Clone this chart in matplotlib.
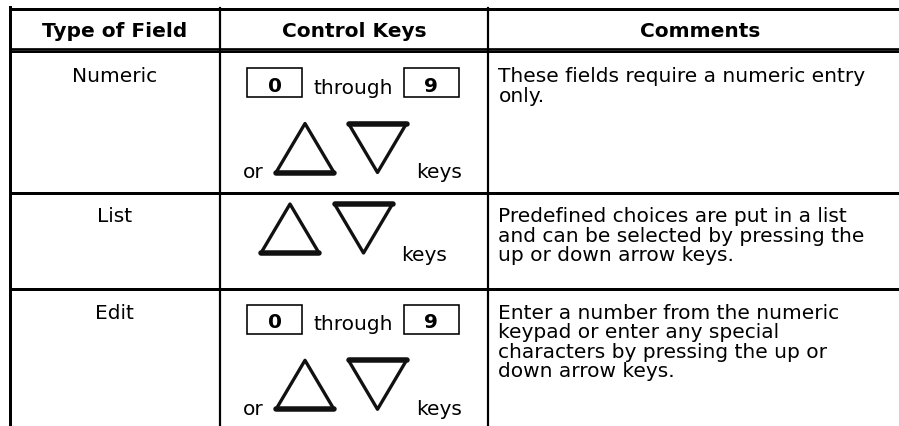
import matplotlib.pyplot as plt
from matplotlib.patches import Polygon, Rectangle

plt.rcParams['font.family'] = ['DejaVu Sans']

# table content
headers = ["Type of Field", "Control Keys", "Comments"]
field_types = ["Numeric", "List", "Edit"]
has_digit_keys = [True, False, True]
key_range = ["0", "9"]
comments = [
    ["These fields require a numeric entry", "only."],
    ["Predefined choices are put in a list", "and can be selected by pressing the",
     "up or down arrow keys."],
    ["Enter a number from the numeric", "keypad or enter any special",
     "characters by pressing the up or", "down arrow keys."],
]

# layout in pixels (y grows downward)
W, H = 899, 427
col_x = [9.5, 220, 488.3, 912]
row_top = [53.5, 194, 290.3]
row_bot = [194, 290.3, 440]
FS = 14.5
LINE = 19.5


def px(p):
    return p * 0.72


def triangle(ax, x0, y0, up=True, w=58, h=49):
    if up:
        pts = [(x0, y0 + h), (x0 + w / 2, y0), (x0 + w, y0 + h)]
        edge = y0 + h
    else:
        pts = [(x0, y0), (x0 + w, y0), (x0 + w / 2, y0 + h)]
        edge = y0
    ax.add_patch(Polygon(pts, closed=True, fill=False, ec='#111111',
                         lw=px(3.3), joinstyle='round'))
    ax.plot([x0, x0 + w], [edge, edge], color='#111111', lw=px(5.5),
            solid_capstyle='round')


def key_box(ax, x0, y0, label):
    ax.add_patch(Rectangle((x0, y0), 55, 29, fill=False, ec='black', lw=px(1.6)))
    ax.text(x0 + 27.5, y0 + 22.5, label, ha='center', va='baseline',
            fontsize=FS, fontweight='bold')


fig = plt.figure(figsize=(W / 100, H / 100), dpi=100)
ax = fig.add_axes([0, 0, 1, 1])
ax.set_xlim(0, W)
ax.set_ylim(H, 0)
ax.axis('off')

# grid lines
ax.plot([col_x[0], W], [9.5, 9.5], color='black', lw=px(3))
ax.plot([col_x[0], W], [49.7, 49.7], color='black', lw=px(2.7))
ax.plot([col_x[0], W], [53.3, 53.3], color='black', lw=px(2))
ax.plot([col_x[0], col_x[0]], [8, H], color='black', lw=px(3))
for cx in col_x[1:3]:
    ax.plot([cx, cx], [9, H], color='black', lw=px(2.2))
for ry in row_bot[:2]:
    ax.plot([col_x[0], W], [ry, ry], color='black', lw=px(3))

# header
for i, h in enumerate(headers):
    ax.text((col_x[i] + col_x[i + 1]) / 2, 37, h, ha='center', va='baseline',
            fontsize=FS, fontweight='bold')

for r, name in enumerate(field_types):
    top = row_top[r]
    ax.text((col_x[0] + col_x[1]) / 2, top + 28.5, name, ha='center',
            va='baseline', fontsize=FS)
    for k, line in enumerate(comments[r]):
        ax.text(498.5, top + 28.5 + k * LINE, line, ha='left', va='baseline',
                fontsize=FS)

    if has_digit_keys[r]:
        key_box(ax, 247.3, top + 15.5, key_range[0])
        ax.text(353.5, top + 40, "through", ha='center', va='baseline',
                fontsize=FS)
        key_box(ax, 403.5, top + 15.5, key_range[1])
        ty = top + 71
        ax.text(243, top + 124.5, "or", ha='left', va='baseline', fontsize=FS)
        triangle(ax, 276, ty, up=True)
        triangle(ax, 348.5, ty, up=False)
        ax.text(416.5, top + 124.5, "keys", ha='left', va='baseline', fontsize=FS)
    else:
        ty = top + 11
        triangle(ax, 261, ty, up=True)
        triangle(ax, 334.5, ty, up=False)
        ax.text(401.5, top + 67, "keys", ha='left', va='baseline', fontsize=FS)

fig.savefig("out.png", dpi=100)
